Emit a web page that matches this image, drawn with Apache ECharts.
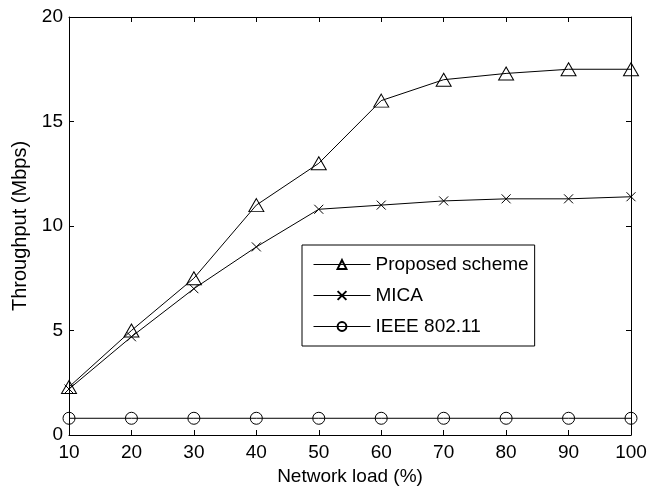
<!DOCTYPE html>
<html>
<head>
<meta charset="utf-8">
<script src="https://cdn.jsdelivr.net/npm/echarts@6/dist/echarts.min.js"></script>
<style>
  html, body { margin: 0; padding: 0; background: #fff; }
  #chart { width: 658px; height: 486px; }
</style>
</head>
<body>
<div id="chart"></div>
<script>
// 网络负载 (%)
const loads = [10, 20, 30, 40, 50, 60, 70, 80, 90, 100];
// 吞吐量 (Mbps)
const proposed = [2.3, 5.0, 7.5, 11.0, 13.0, 16.0, 17.0, 17.3, 17.5, 17.5];
const mica = [2.2, 4.7, 7.0, 9.0, 10.8, 11.0, 11.2, 11.3, 11.3, 11.4];
const ieee = [0.8, 0.8, 0.8, 0.8, 0.8, 0.8, 0.8, 0.8, 0.8, 0.8];

const font = 'Liberation Sans, Arial, sans-serif';
const pair = arr => loads.map((x, i) => [x, arr[i]]);

const hollow = { color: 'transparent', borderColor: '#000', borderWidth: 1 };
const crossPath = 'path://M0,0L10,10M10,0L0,10';

function axisBase(show) {
  return {
    type: 'value',
    axisLine: { show: true, onZero: false, lineStyle: { color: '#000', width: 1 } },
    axisTick: { show: true, inside: true, length: 5, lineStyle: { color: '#000' } },
    splitLine: { show: false },
    axisLabel: { show: show, color: '#000', fontSize: 18, fontFamily: font }
  };
}

let myChart = echarts.init(document.getElementById('chart'));
let option = {
  animation: false,
  backgroundColor: '#fff',
  grid: { left: 69, right: 27, top: 17, bottom: 51, outerBoundsMode: 'none' },
  xAxis: [
    Object.assign(axisBase(true), {
      min: 10, max: 100, interval: 10,
      position: 'bottom',
      name: 'Network load (%)',
      nameLocation: 'middle',
      nameGap: 31,
      nameTextStyle: { color: '#000', fontSize: 19, fontFamily: font },
      axisLabel: { color: '#000', fontSize: 19, fontFamily: font, margin: 8 }
    }),
    Object.assign(axisBase(false), {
      min: 10, max: 100, interval: 10, position: 'top'
    })
  ],
  yAxis: [
    Object.assign(axisBase(true), {
      min: 0, max: 20, interval: 5,
      position: 'left',
      name: 'Throughput (Mbps)',
      nameLocation: 'middle',
      nameGap: 34,
      nameTextStyle: { color: '#000', fontSize: 20, fontFamily: font },
      axisLabel: { color: '#000', fontSize: 19, fontFamily: font, margin: 6 }
    }),
    Object.assign(axisBase(false), {
      min: 0, max: 20, interval: 5, position: 'right'
    })
  ],
  legend: {
    orient: 'vertical',
    left: 302,
    top: 245,
    padding: [10, 6, 10, 11],
    itemWidth: 57,
    itemHeight: 11,
    itemGap: 12,
    borderColor: '#000',
    borderWidth: 1,
    backgroundColor: '#fff',
    lineStyle: { width: 1 },
    textStyle: { color: '#000', fontSize: 19, fontFamily: font },
    data: ['Proposed scheme', 'MICA', 'IEEE 802.11']
  },
  series: [
    {
      name: 'Proposed scheme',
      type: 'line',
      data: pair(proposed),
      symbol: 'triangle',
      symbolSize: [15, 13],
      itemStyle: hollow,
      lineStyle: { color: '#000', width: 1 }
    },
    {
      name: 'MICA',
      type: 'line',
      data: pair(mica),
      symbol: crossPath,
      symbolSize: 9,
      itemStyle: hollow,
      lineStyle: { color: '#000', width: 1 }
    },
    {
      name: 'IEEE 802.11',
      type: 'line',
      data: pair(ieee),
      symbol: 'circle',
      symbolSize: 12,
      itemStyle: hollow,
      lineStyle: { color: '#000', width: 1 }
    }
  ]
};
myChart.setOption(option);
</script>
</body>
</html>
